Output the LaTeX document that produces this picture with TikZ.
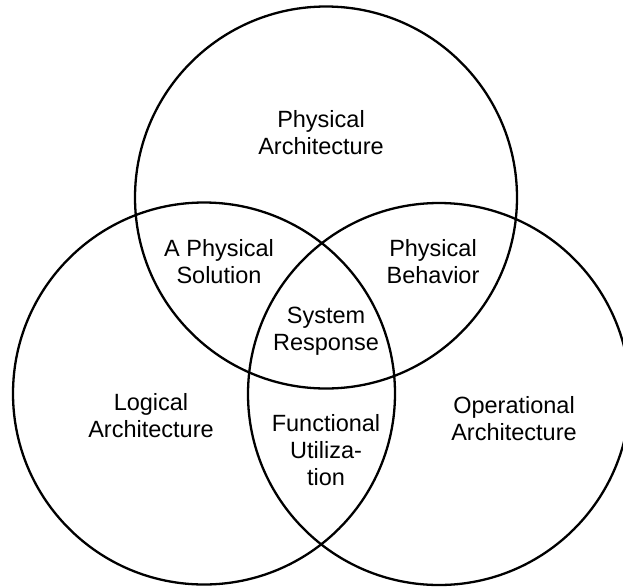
\documentclass[tikz,border=0pt]{standalone}
\usepackage{fontspec}
\setmainfont{Liberation Sans}
\begin{document}
\begin{tikzpicture}[x=1pt,y=-1pt,
  ring/.style={draw=black,line width=2.3pt},
  lbl/.style={align=center,font=\fontsize{23.5}{27}\selectfont,inner sep=0pt}]
  \useasboundingbox (0,0) rectangle (623,587);
  % the three overlapping sets
  \draw[ring] (326,197.5) circle[radius=191];
  \draw[ring] (204,393.5) circle[radius=191];
  \draw[ring] (439,394) circle[radius=191];
  % region labels
  \node[lbl] (phys) at (321,133) {Physical\\Architecture};
  \node[lbl] (sol)  at (219,262) {A Physical\\Solution};
  \node[lbl] (beh)  at (433,262) {Physical\\Behavior};
  \node[lbl] (resp) at (326,331) {System\\Response};
  \node[lbl] (log)  at (151,416) {Logical\\Architecture};
  \node[lbl] (func) at (326,450) {Functional\\Utiliza-\\tion};
  \node[lbl] (oper) at (514,419) {Operational\\Architecture};
\end{tikzpicture}
\end{document}
